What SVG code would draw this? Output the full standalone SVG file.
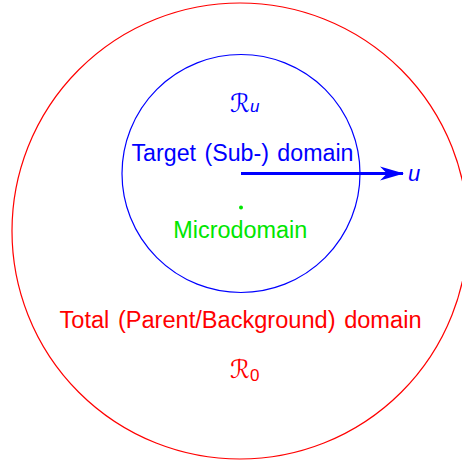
<svg xmlns="http://www.w3.org/2000/svg" width="462" height="462" viewBox="0 0 462 462">
<style>
.t{font-family:"Liberation Sans",Arial,sans-serif;font-size:23.5px;text-anchor:middle;word-spacing:2px}
.m{font-family:"DejaVu Sans",serif;font-size:25px}
.sub{font-family:"Liberation Sans",Arial,sans-serif;font-size:17px}
.red{fill:#ff0000}.blue{fill:#0000ff}.green{fill:#00e600}
</style>
<defs>
<marker id="ah" viewBox="0 0 24 16" refX="23" refY="8" markerWidth="24" markerHeight="16" markerUnits="userSpaceOnUse" orient="auto">
<path d="M0,1 L24,8 L0,15 L7,8 Z" fill="#0000ff"/>
</marker>
</defs>
<rect width="462" height="462" fill="#fff"/>
<g id="total">
<circle cx="240" cy="231" r="228" fill="none" stroke="#ff0000" stroke-width="1.2"/>
<text class="t red" x="240.5" y="328" textLength="362" lengthAdjust="spacingAndGlyphs">Total (Parent/Background) domain</text>
<text class="m red" x="230" y="378">ℛ<tspan class="sub" dy="3">0</tspan></text>
</g>
<g id="target">
<circle cx="241" cy="173.5" r="119" fill="none" stroke="#0000ff" stroke-width="1.2"/>
<text class="t blue" x="242.5" y="161.3" textLength="222" lengthAdjust="spacingAndGlyphs">Target (Sub-) domain</text>
<text class="m blue" x="230" y="111.5">ℛ<tspan class="sub" font-style="italic" dy="0.5">u</tspan></text>
</g>
<g id="micro">
<circle cx="241" cy="207.5" r="2" fill="#00e600"/>
<text class="t green" x="240.3" y="238" textLength="134" lengthAdjust="spacingAndGlyphs">Microdomain</text>
</g>
<g id="connectors">
<line x1="241" y1="173.5" x2="403" y2="173.5" stroke="#0000ff" stroke-width="3.2" marker-end="url(#ah)"/>
<text x="408" y="180.5" font-family="Liberation Sans,sans-serif" font-style="italic" font-size="22" fill="#0000ff">u</text>
</g>
</svg>
